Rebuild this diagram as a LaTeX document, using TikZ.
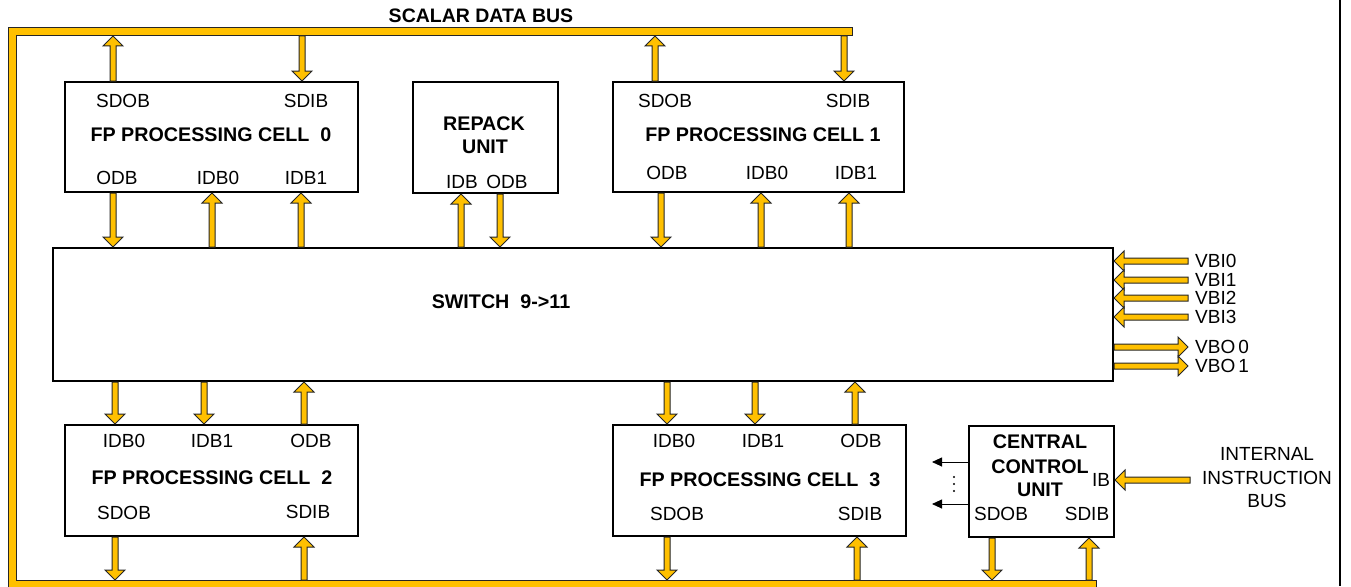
\documentclass[tikz,border=0pt]{standalone}
\usepackage{fontspec}
\setmainfont{Liberation Sans}
\usetikzlibrary{calc,arrows.meta}
\definecolor{busyellow}{HTML}{FFC000}
\tikzset{
  box/.style={draw=black, line width=2pt, fill=white, anchor=north west, inner sep=0pt},
  lab/.style={font=\fontsize{19}{23.5}\selectfont, inner sep=0pt},
  ttl/.style={font=\bfseries\fontsize{19.7}{23.5}\selectfont, inner sep=0pt, align=center},
  fat/.style={fill=busyellow, draw=black!85, line width=1pt, line join=miter},
  thin/.style={draw=black, line width=0.9pt, -{Triangle[length=10pt,width=9pt]}},
}
\newcommand\fatarr[2]{%
  \path (#1) coordinate (FAS) (#2) coordinate (FAT);
  \path ($(FAT)!10pt!(FAS)$) coordinate (FAB);
  \draw[fat] ($(FAS)!3pt!90:(FAT)$) -- ($(FAB)!3pt!90:(FAT)$) -- ($(FAB)!10pt!90:(FAT)$)
    -- (FAT) -- ($(FAB)!10pt!-90:(FAT)$) -- ($(FAB)!3pt!-90:(FAT)$) -- ($(FAS)!3pt!-90:(FAT)$) -- cycle;}
\begin{document}
\begin{tikzpicture}[x=1pt,y=-1pt]
\useasboundingbox (0,0) rectangle (1351,586);
% buses
\draw[fat] (8,28) -- (852,28) -- (852,36) -- (16,36) -- (16,580) -- (1096,580) -- (1096,594) -- (8,594) -- cycle;
\coordinate (sbus) at (0,36);
\coordinate (bbus) at (0,580);
\node[font=\bfseries\fontsize{19.5}{22}\selectfont, inner sep=0pt] (sdbus) at (481,16) {SCALAR DATA BUS};
\draw[line width=2.2pt] (1340,0) -- (1340,586);
% boxes
\node[box, minimum width=293pt, minimum height=110pt] (c0) at (64,81) {};
\node[box, minimum width=145pt, minimum height=111pt] (rp) at (412,81) {};
\node[box, minimum width=291pt, minimum height=110pt] (c1) at (612,81) {};
\node[box, minimum width=1060pt, minimum height=133pt] (sw) at (52,247) {};
\node[box, minimum width=293pt, minimum height=111pt] (c2) at (64,424) {};
\node[box, minimum width=293pt, minimum height=111pt] (c3) at (612,424) {};
\node[box, minimum width=145pt, minimum height=111pt] (ccu) at (968,425) {};
% cell 0 texts
\node[lab] (c0sdob) at (123,101) {SDOB};
\node[lab] (c0sdib) at (306,101) {SDIB};
\node[ttl] (c0t) at (211,135) {FP PROCESSING CELL\ \ 0};
\node[lab] (c0odb) at (117,178) {ODB};
\node[lab] (c0idb0) at (218,178) {IDB0};
\node[lab] (c0idb1) at (306,178) {IDB1};
% repack
\node[ttl] (rpt1) at (484,124) {REPACK};
\node[ttl] (rpt2) at (485,147) {UNIT};
\node[lab] (rpidb) at (462,182) {IDB};
\node[lab] (rpodb) at (507,182) {ODB};
% cell 1
\node[lab] (c1sdob) at (665,101) {SDOB};
\node[lab] (c1sdib) at (848,101) {SDIB};
\node[ttl] (c1t) at (763,135) {FP PROCESSING CELL 1};
\node[lab] (c1odb) at (667,173) {ODB};
\node[lab] (c1idb0) at (767,173) {IDB0};
\node[lab] (c1idb1) at (856,173) {IDB1};
% switch
\node[ttl] (swt) at (501,302) {SWITCH\ \ 9->11};
% cell 2
\node[lab] (c2idb0) at (124,441) {IDB0};
\node[lab] (c2idb1) at (212,441) {IDB1};
\node[lab] (c2odb) at (311,441) {ODB};
\node[ttl] (c2t) at (212,478) {FP PROCESSING CELL\ \ 2};
\node[lab] (c2sdob) at (124,513) {SDOB};
\node[lab] (c2sdib) at (308,512) {SDIB};
% cell 3
\node[lab] (c3idb0) at (674,441) {IDB0};
\node[lab] (c3idb1) at (763,441) {IDB1};
\node[lab] (c3odb) at (861,441) {ODB};
\node[ttl] (c3t) at (760,480) {FP PROCESSING CELL\ \ 3};
\node[lab] (c3sdob) at (677,514) {SDOB};
\node[lab] (c3sdib) at (860,514) {SDIB};
% ccu
\node[ttl] (ccu1) at (1040,442) {CENTRAL};
\node[ttl] (ccu2) at (1040,467) {CONTROL};
\node[ttl] (ccu3) at (1040,490) {UNIT};
\node[lab] (ccuib) at (1101,480) {IB};
\node[lab] (ccusdob) at (1001,514) {SDOB};
\node[lab] (ccusdib) at (1087,514) {SDIB};
\node[lab, align=center] (iib) at (1267,478) {INTERNAL\\INSTRUCTION\\BUS};
% VB labels
\coordinate (vbi0) at (1188,261);
\coordinate (vbi1) at (1188,280);
\coordinate (vbi2) at (1188,298);
\coordinate (vbi3) at (1188,317);
\coordinate (vbo0) at (1188,347);
\coordinate (vbo1) at (1188,366);
\node[lab, anchor=west] (lvbi0) at (1195,261) {VBI0};
\node[lab, anchor=west] (lvbi1) at (1195,280) {VBI1};
\node[lab, anchor=west] (lvbi2) at (1195,298) {VBI2};
\node[lab, anchor=west] (lvbi3) at (1195,317) {VBI3};
\node[lab, anchor=west] (lvbo0) at (1195,347) {VBO\,0};
\node[lab, anchor=west] (lvbo1) at (1195,366) {VBO\,1};
% arrows cell 0
\fatarr{113,0 |- c0.north}{113,0 |- sbus}
\fatarr{302,0 |- sbus}{302,0 |- c0.north}
\fatarr{113,0 |- c0.south}{113,0 |- sw.north}
\fatarr{212,0 |- sw.north}{212,0 |- c0.south}
\fatarr{301,0 |- sw.north}{301,0 |- c0.south}
% repack
\fatarr{461,0 |- sw.north}{461,0 |- rp.south}
\fatarr{500,0 |- rp.south}{500,0 |- sw.north}
% cell 1
\fatarr{655,0 |- c1.north}{655,0 |- sbus}
\fatarr{844,0 |- sbus}{844,0 |- c1.north}
\fatarr{661,0 |- c1.south}{661,0 |- sw.north}
\fatarr{761,0 |- sw.north}{761,0 |- c1.south}
\fatarr{849,0 |- sw.north}{849,0 |- c1.south}
% cell 2
\fatarr{115,0 |- sw.south}{115,0 |- c2.north}
\fatarr{204,0 |- sw.south}{204,0 |- c2.north}
\fatarr{304,0 |- c2.north}{304,0 |- sw.south}
\fatarr{115,0 |- c2.south}{115,0 |- bbus}
\fatarr{304,0 |- bbus}{304,0 |- c2.south}
% cell 3
\fatarr{667,0 |- sw.south}{667,0 |- c3.north}
\fatarr{755,0 |- sw.south}{755,0 |- c3.north}
\fatarr{855,0 |- c3.north}{855,0 |- sw.south}
\fatarr{667,0 |- c3.south}{667,0 |- bbus}
\fatarr{857,0 |- bbus}{857,0 |- c3.south}
% ccu
\fatarr{992,0 |- ccu.south}{992,0 |- bbus}
\fatarr{1089,0 |- bbus}{1089,0 |- ccu.south}
\coordinate (ibt) at (1190,480);
\fatarr{ibt}{ccu.east |- ibt}
% VB arrows
\fatarr{vbi0}{sw.east |- vbi0}
\fatarr{vbi1}{sw.east |- vbi1}
\fatarr{vbi2}{sw.east |- vbi2}
\fatarr{vbi3}{sw.east |- vbi3}
\fatarr{sw.east |- vbo0}{vbo0}
\fatarr{sw.east |- vbo1}{vbo1}
% control lines
\coordinate (ctl1) at (932,462);
\coordinate (ctl2) at (932,504);
\draw[thin] (ccu.west |- ctl1) -- (ctl1);
\draw[thin] (ccu.west |- ctl2) -- (ctl2);
\fill (954,477) circle (1.2pt) (954,484) circle (1.2pt) (954,491) circle (1.2pt);
\end{tikzpicture}
\end{document}
